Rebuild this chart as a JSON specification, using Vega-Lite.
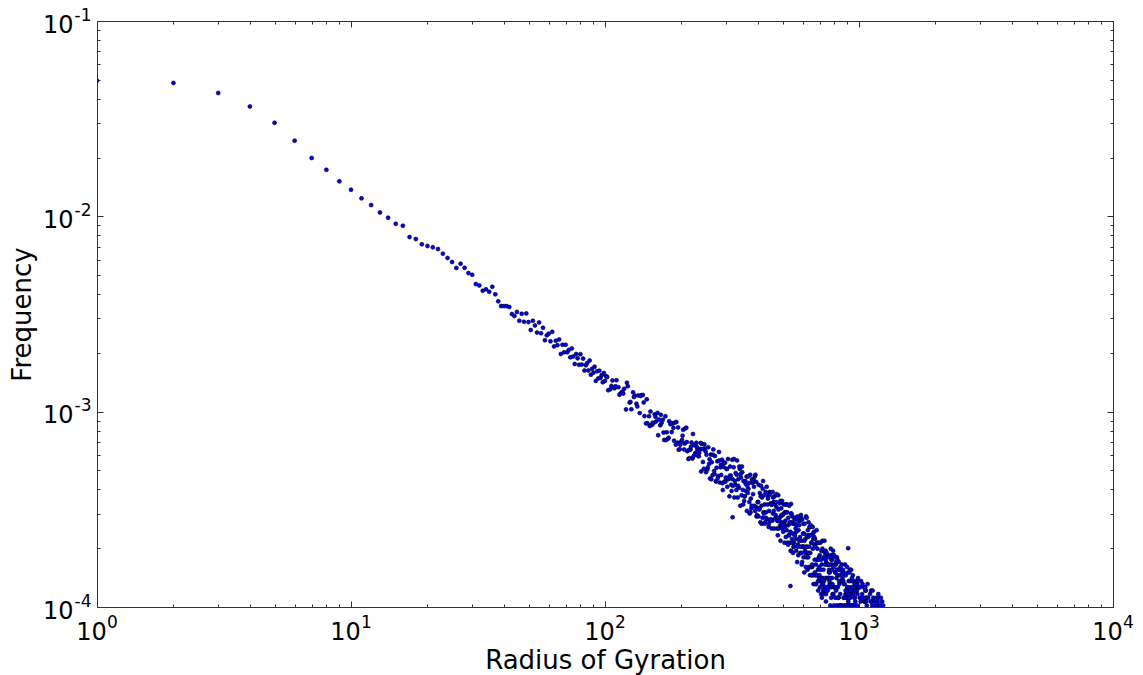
{
"$schema":"https://vega.github.io/schema/vega-lite/v6.json",
"width":1016,"height":586,
"autosize":{"type":"none"},
"padding":{"left":97,"top":21,"right":30,"bottom":68},
"background":"white",
"config":{"view":{"stroke":"#333","strokeWidth":1},"font":"DejaVu Sans"},
"data":{"values":[
{"r":1,"f":0.0495},{"r":2,"f":0.0482},{"r":3,"f":0.0428},{"r":4,"f":0.0365},{"r":5,"f":0.0301},{"r":6,"f":0.0244},{"r":7,"f":0.0199},{"r":8,"f":0.0173},{"r":9,"f":0.0151},{"r":10,"f":0.01368},
{"r":11,"f":0.01236},{"r":12,"f":0.01142},{"r":13,"f":0.01047},{"r":14,"f":0.00984},{"r":15,"f":0.00916},{"r":16,"f":0.00895},{"r":17,"f":0.00783},{"r":18,"f":0.00765},{"r":19,"f":0.00719},{"r":20,"f":0.00705},
{"r":21,"f":0.00694},{"r":22,"f":0.0068},{"r":23,"f":0.00644},{"r":24,"f":0.00612},{"r":25,"f":0.00584},{"r":26,"f":0.00544},{"r":27,"f":0.00572},{"r":28,"f":0.00545},{"r":29,"f":0.00512},{"r":30,"f":0.00502},
{"r":31,"f":0.0045},{"r":32,"f":0.00443},{"r":33,"f":0.00416},{"r":34,"f":0.00423},{"r":35,"f":0.00411},{"r":36,"f":0.00436},{"r":37,"f":0.00399},{"r":38,"f":0.00367},{"r":39,"f":0.00347},{"r":40,"f":0.00347},
{"r":41,"f":0.00347},{"r":42,"f":0.00343},{"r":43,"f":0.00316},{"r":44,"f":0.00309},{"r":45,"f":0.00324},{"r":46,"f":0.00292},
{"r":47,"f":0.003171},{"r":48,"f":0.002885},{"r":49,"f":0.003184},{"r":50,"f":0.002874},{"r":51,"f":0.002616},{"r":52,"f":0.002919},{"r":53,"f":0.002761},{"r":54,"f":0.00254},{"r":55,"f":0.002863},{"r":56,"f":0.002519},
{"r":57,"f":0.002689},{"r":58,"f":0.002323},{"r":59,"f":0.002458},{"r":60,"f":0.002509},{"r":61,"f":0.002291},{"r":62,"f":0.002563},{"r":63,"f":0.002159},{"r":64,"f":0.002309},{"r":65,"f":0.002191},{"r":66,"f":0.002344},
{"r":67,"f":0.001974},{"r":68,"f":0.002202},{"r":69,"f":0.002015},{"r":70,"f":0.002199},{"r":71,"f":0.002013},{"r":72,"f":0.00207},{"r":73,"f":0.001897},{"r":74,"f":0.002108},{"r":75,"f":0.001916},{"r":76,"f":0.001755},
{"r":77,"f":0.001972},{"r":78,"f":0.001876},{"r":79,"f":0.001736},{"r":80,"f":0.001969},{"r":81,"f":0.001742},{"r":82,"f":0.001869},{"r":83,"f":0.001623},{"r":84,"f":0.001726},{"r":85,"f":0.001771},{"r":86,"f":0.001625},
{"r":87,"f":0.001827},{"r":88,"f":0.001546},{"r":89,"f":0.00166},{"r":90,"f":0.001582},{"r":91,"f":0.0017},{"r":92,"f":0.001437},{"r":93,"f":0.00161},{"r":94,"f":0.00148},{"r":95,"f":0.001621},{"r":96,"f":0.001489},
{"r":97,"f":0.001537},{"r":98,"f":0.001413},{"r":99,"f":0.001576},{"r":100,"f":0.001437},
{"r":101,"f":0.001518},{"r":103,"f":0.001287},{"r":105,"f":0.001304},{"r":107,"f":0.001444},{"r":109,"f":0.001318},{"r":111,"f":0.001449},{"r":113,"f":0.001335},{"r":115,"f":0.001239},{"r":117,"f":0.001268},{"r":119,"f":0.001309},
{"r":121,"f":0.001027},{"r":123,"f":0.001351},{"r":125,"f":0.001113},{"r":127,"f":0.001028},{"r":129,"f":0.001256},{"r":131,"f":0.001208},{"r":133,"f":0.001098},{"r":135,"f":0.00121},{"r":137,"f":0.0009836},{"r":139,"f":0.001214},
{"r":141,"f":0.001217},{"r":143,"f":0.0009495},{"r":145,"f":0.000871},{"r":147,"f":0.000873},{"r":149,"f":0.0009485},
{"r":151,"f":0.001001},{"r":153,"f":0.0008546},{"r":155,"f":0.0008714},{"r":157,"f":0.0009704},{"r":159,"f":0.0008912},{"r":161,"f":0.0009856},{"r":163,"f":0.0009126},{"r":165,"f":0.0008518},{"r":167,"f":0.0008761},{"r":169,"f":0.0009092},
{"r":171,"f":0.0007166},{"r":173,"f":0.0009473},{"r":175,"f":0.0007842},{"r":177,"f":0.0007274},{"r":179,"f":0.000893},{"r":181,"f":0.0008624},{"r":183,"f":0.0007869},{"r":185,"f":0.000871},{"r":187,"f":0.0007108},{"r":189,"f":0.0008808},
{"r":191,"f":0.0008858},{"r":193,"f":0.0006939},{"r":195,"f":0.0006388},{"r":197,"f":0.0006425},{"r":199,"f":0.0007004},
{"r":201,"f":0.0007164},{"r":203,"f":0.0008073},{"r":205,"f":0.0006406},{"r":207,"f":0.0008209},{"r":209,"f":0.0008282},{"r":211,"f":0.0006279},{"r":213,"f":0.0005726},{"r":215,"f":0.000578},{"r":217,"f":0.0006397},{"r":219,"f":0.000695},
{"r":221,"f":0.000575},{"r":223,"f":0.0005916},{"r":225,"f":0.0006734},{"r":227,"f":0.0006143},{"r":229,"f":0.0006926},{"r":231,"f":0.0006381},{"r":233,"f":0.000593},{"r":235,"f":0.0006158},{"r":237,"f":0.0006447},{"r":239,"f":0.0004943},
{"r":241,"f":0.0006829},{"r":243,"f":0.0005528},{"r":245,"f":0.0005095},{"r":247,"f":0.0006479},{"r":249,"f":0.0006251},
{"r":251,"f":0.0006019},{"r":253,"f":0.0005063},{"r":255,"f":0.0006571},{"r":257,"f":0.0005409},{"r":259,"f":0.0004551},{"r":261,"f":0.0006034},{"r":263,"f":0.0005512},{"r":265,"f":0.0004731},{"r":267,"f":0.0006408},{"r":269,"f":0.0004962},
{"r":271,"f":0.0005932},{"r":273,"f":0.0004405},{"r":275,"f":0.0005164},{"r":277,"f":0.0005567},{"r":279,"f":0.0004688},{"r":281,"f":0.0006215},{"r":283,"f":0.0004341},{"r":285,"f":0.0005191},{"r":287,"f":0.0004745},{"r":289,"f":0.0005679},
{"r":291,"f":0.0003967},{"r":293,"f":0.0005209},{"r":295,"f":0.0004385},{"r":297,"f":0.0005469},{"r":299,"f":0.0004602},
{"r":102,"f":0.001503},{"r":106,"f":0.001355},{"r":110,"f":0.001349},{"r":114,"f":0.001221},{"r":118,"f":0.001237},{"r":122,"f":0.001406},{"r":126,"f":0.001122},{"r":130,"f":0.001188},{"r":134,"f":0.001063},{"r":138,"f":0.001204},
{"r":142,"f":0.001115},{"r":146,"f":0.001156},{"r":150,"f":0.0008438},{"r":154,"f":0.0008771},{"r":158,"f":0.0009415},{"r":162,"f":0.0007565},{"r":166,"f":0.0009629},{"r":170,"f":0.0007819},{"r":174,"f":0.0007159},{"r":178,"f":0.0007346},
{"r":182,"f":0.0008719},{"r":186,"f":0.0008261},{"r":190,"f":0.0006776},{"r":194,"f":0.0008306},{"r":198,"f":0.0006764},
{"r":202,"f":0.0007535},{"r":206,"f":0.0006864},{"r":210,"f":0.0006987},{"r":214,"f":0.0006366},{"r":218,"f":0.0006606},{"r":222,"f":0.0007688},{"r":226,"f":0.0006057},{"r":230,"f":0.0006588},{"r":234,"f":0.0005904},{"r":238,"f":0.0006915},
{"r":242,"f":0.0006431},{"r":246,"f":0.0006811},{"r":250,"f":0.0004902},{"r":254,"f":0.0005194},{"r":258,"f":0.0005713},{"r":262,"f":0.0004509},{"r":266,"f":0.0006016},{"r":270,"f":0.0004796},{"r":274,"f":0.0004389},{"r":278,"f":0.0004572},
{"r":282,"f":0.0005624},{"r":286,"f":0.0005342},{"r":290,"f":0.0004304},{"r":294,"f":0.0005497},{"r":298,"f":0.0004384},
{"r":301,"f":0.0005093},{"r":303,"f":0.0004123},{"r":305,"f":0.0005723},{"r":307,"f":0.0004511},{"r":309,"f":0.0003686},{"r":311,"f":0.0005238},{"r":313,"f":0.0004705},{"r":315,"f":0.0003929},{"r":317,"f":0.0005675},{"r":319,"f":0.0004171},
{"r":321,"f":0.000519},{"r":323,"f":0.0003638},{"r":325,"f":0.0004414},{"r":327,"f":0.000485},{"r":329,"f":0.0003977},{"r":331,"f":0.0005626},{"r":333,"f":0.0003638},{"r":335,"f":0.0004511},{"r":337,"f":0.0004074},{"r":339,"f":0.0005093},
{"r":341,"f":0.0003298},{"r":343,"f":0.0004608},{"r":345,"f":0.0003735},{"r":347,"f":0.0004899},{"r":349,"f":0.0003977},
{"r":351,"f":0.0004414},{"r":353,"f":0.0003492},{"r":355,"f":0.0003686},{"r":357,"f":0.0004414},{"r":359,"f":0.0003929},{"r":361,"f":0.0004656},{"r":363,"f":0.0004171},{"r":365,"f":0.0003832},{"r":367,"f":0.0004026},{"r":369,"f":0.0004317},
{"r":371,"f":0.0003007},{"r":373,"f":0.0004753},{"r":375,"f":0.0003589},{"r":377,"f":0.0003201},{"r":379,"f":0.0004511},{"r":381,"f":0.0004317},{"r":383,"f":0.0003783},{"r":385,"f":0.0004462},{"r":387,"f":0.0003298},{"r":389,"f":0.0004656},
{"r":391,"f":0.0004753},{"r":393,"f":0.000325},{"r":395,"f":0.000291},{"r":397,"f":0.0002959},{"r":399,"f":0.0003444},
{"r":401,"f":0.0003444},{"r":403,"f":0.000422},{"r":405,"f":0.0003153},{"r":407,"f":0.0003832},{"r":409,"f":0.0002716},{"r":411,"f":0.0004171},{"r":413,"f":0.0003298},{"r":415,"f":0.0003638},{"r":417,"f":0.0002862},{"r":419,"f":0.0004414},
{"r":421,"f":0.0003056},{"r":423,"f":0.0003735},{"r":425,"f":0.0003347},{"r":427,"f":0.0002716},{"r":429,"f":0.000388},{"r":431,"f":0.0003056},{"r":433,"f":0.0004123},{"r":435,"f":0.0002813},{"r":437,"f":0.0003347},{"r":439,"f":0.0003686},
{"r":441,"f":0.0002571},{"r":443,"f":0.0003104},{"r":445,"f":0.000388},{"r":447,"f":0.0002765},{"r":449,"f":0.0003395},
{"r":451,"f":0.0003347},{"r":453,"f":0.0002522},{"r":455,"f":0.0002765},{"r":457,"f":0.000388},{"r":459,"f":0.0003638},{"r":461,"f":0.0003444},{"r":463,"f":0.0002522},{"r":465,"f":0.0003686},{"r":467,"f":0.0003347},{"r":469,"f":0.0002862},
{"r":471,"f":0.0003444},{"r":473,"f":0.000325},{"r":475,"f":0.0002522},{"r":477,"f":0.0002765},{"r":479,"f":0.0002328},{"r":481,"f":0.0003735},{"r":483,"f":0.0002522},{"r":485,"f":0.0002862},{"r":487,"f":0.0003395},{"r":489,"f":0.0002619},
{"r":491,"f":0.0002183},{"r":493,"f":0.000291},{"r":495,"f":0.0002959},{"r":497,"f":0.0002716},{"r":499,"f":0.0002522},
{"r":501,"f":0.0002959},{"r":503,"f":0.0002425},{"r":505,"f":0.0003347},{"r":507,"f":0.0002668},{"r":509,"f":0.0002134},{"r":511,"f":0.0003056},{"r":513,"f":0.0002765},{"r":515,"f":0.000228},{"r":517,"f":0.0003347},{"r":519,"f":0.0002474},
{"r":521,"f":0.0003056},{"r":523,"f":0.0002134},{"r":525,"f":0.0002619},{"r":527,"f":0.0002862},{"r":529,"f":0.0002328},{"r":531,"f":0.0003298},{"r":533,"f":0.0002134},{"r":535,"f":0.0002668},{"r":537,"f":0.0002425},{"r":539,"f":0.0003007},
{"r":541,"f":0.000194},{"r":543,"f":0.0002716},{"r":545,"f":0.0002231},{"r":547,"f":0.000291},{"r":549,"f":0.0002377},
{"r":551,"f":0.0002668},{"r":553,"f":0.0002037},{"r":555,"f":0.0002134},{"r":557,"f":0.0002668},{"r":559,"f":0.0002328},{"r":561,"f":0.0002862},{"r":563,"f":0.0002522},{"r":565,"f":0.0002231},{"r":567,"f":0.0002425},{"r":569,"f":0.0002619},
{"r":571,"f":0.0001698},{"r":573,"f":0.000291},{"r":575,"f":0.0002086},{"r":577,"f":0.0001843},{"r":579,"f":0.0002765},{"r":581,"f":0.0002619},{"r":583,"f":0.0002231},{"r":585,"f":0.0002765},{"r":587,"f":0.0001892},{"r":589,"f":0.0002862},
{"r":591,"f":0.0002959},{"r":593,"f":0.0001892},{"r":595,"f":0.0001649},{"r":597,"f":0.0001698},{"r":599,"f":0.0002037},
{"r":601,"f":0.0002037},{"r":603,"f":0.0002668},{"r":605,"f":0.0001795},{"r":607,"f":0.0002377},{"r":609,"f":0.0001504},{"r":611,"f":0.0002668},{"r":613,"f":0.000194},{"r":615,"f":0.0002231},{"r":617,"f":0.0001601},{"r":619,"f":0.000291},
{"r":621,"f":0.0001795},{"r":623,"f":0.0002328},{"r":625,"f":0.0002037},{"r":627,"f":0.0001552},{"r":629,"f":0.0002474},{"r":631,"f":0.0001795},{"r":633,"f":0.0002716},{"r":635,"f":0.0001601},{"r":637,"f":0.0002037},{"r":639,"f":0.0002328},
{"r":641,"f":0.0001455},{"r":643,"f":0.0001892},{"r":645,"f":0.0002571},{"r":647,"f":0.0001601},{"r":649,"f":0.0002134},
{"r":651,"f":0.0002134},{"r":653,"f":0.0001455},{"r":655,"f":0.0001601},{"r":657,"f":0.0002571},{"r":659,"f":0.0002377},{"r":661,"f":0.0002231},{"r":663,"f":0.0001455},{"r":665,"f":0.0002425},{"r":667,"f":0.0002086},{"r":669,"f":0.0001746},
{"r":671,"f":0.0002231},{"r":673,"f":0.0002037},{"r":675,"f":0.0001455},{"r":677,"f":0.0001649},{"r":679,"f":0.000131},{"r":681,"f":0.0002474},{"r":683,"f":0.0001455},{"r":685,"f":0.0001746},{"r":687,"f":0.0002134},{"r":689,"f":0.0001552},
{"r":691,"f":0.0001213},{"r":693,"f":0.0001746},{"r":695,"f":0.0001795},{"r":697,"f":0.0001601},{"r":699,"f":0.0001455},
{"r":701,"f":0.0001843},{"r":703,"f":0.0001358},{"r":705,"f":0.0002134},{"r":707,"f":0.0001552},{"r":709,"f":0.0001164},{"r":711,"f":0.000194},{"r":713,"f":0.0001649},{"r":715,"f":0.000131},{"r":717,"f":0.0002183},{"r":719,"f":0.0001407},
{"r":721,"f":0.000194},{"r":723,"f":0.0001213},{"r":725,"f":0.0001552},{"r":727,"f":0.0001795},{"r":729,"f":0.0001358},{"r":731,"f":0.0002183},{"r":733,"f":0.0001213},{"r":735,"f":0.0001649},{"r":737,"f":0.0001407},{"r":739,"f":0.000194},
{"r":741,"f":0.0001067},{"r":743,"f":0.0001698},{"r":745,"f":0.0001261},{"r":747,"f":0.0001843},{"r":749,"f":0.0001407},
{"r":751,"f":0.0001649},{"r":753,"f":0.0001213},{"r":755,"f":0.0001261},{"r":757,"f":0.0001649},{"r":759,"f":0.0001407},{"r":761,"f":0.0001795},{"r":763,"f":0.0001552},{"r":765,"f":0.0001358},{"r":767,"f":0.0001504},{"r":769,"f":0.0001649},
{"r":771,"f":0.0001019},{"r":773,"f":0.0001843},{"r":775,"f":0.0001261},{"r":777,"f":0.0001116},{"r":779,"f":0.0001746},{"r":781,"f":0.0001649},{"r":783,"f":0.0001407},{"r":785,"f":0.0001746},{"r":787,"f":0.0001164},{"r":789,"f":0.0001843},
{"r":791,"f":0.000194},{"r":793,"f":0.0001164},{"r":797,"f":0.0001019},{"r":799,"f":0.0001261},
{"r":801,"f":0.0001261},{"r":803,"f":0.0001649},{"r":805,"f":0.0001116},{"r":807,"f":0.0001504},{"r":811,"f":0.0001649},{"r":813,"f":0.0001213},{"r":815,"f":0.0001407},{"r":817,"f":0.0001019},{"r":819,"f":0.0001795},{"r":821,"f":0.0001116},
{"r":823,"f":0.0001455},{"r":825,"f":0.0001261},{"r":829,"f":0.0001552},{"r":831,"f":0.0001116},{"r":833,"f":0.0001698},{"r":835,"f":0.0001019},{"r":837,"f":0.000131},{"r":839,"f":0.0001455},{"r":843,"f":0.0001164},{"r":845,"f":0.0001601},
{"r":847,"f":0.0001019},{"r":849,"f":0.0001358},
{"r":851,"f":0.0001358},{"r":855,"f":0.0001019},{"r":857,"f":0.0001649},{"r":859,"f":0.0001504},{"r":861,"f":0.0001407},{"r":865,"f":0.0001552},{"r":867,"f":0.0001358},{"r":869,"f":0.0001116},{"r":871,"f":0.0001455},{"r":873,"f":0.000131},
{"r":877,"f":0.0001116},{"r":881,"f":0.0001649},{"r":885,"f":0.0001164},{"r":887,"f":0.0001455},{"r":889,"f":0.0001019},{"r":893,"f":0.0001213},{"r":895,"f":0.0001213},{"r":897,"f":0.0001116},{"r":899,"f":0.0001019},
{"r":901,"f":0.0001261},{"r":905,"f":0.0001504},{"r":907,"f":0.0001067},{"r":911,"f":0.0001358},{"r":913,"f":0.0001164},{"r":917,"f":0.0001504},{"r":919,"f":0.0001019},{"r":921,"f":0.0001358},{"r":925,"f":0.0001116},{"r":927,"f":0.0001261},
{"r":931,"f":0.0001552},{"r":935,"f":0.0001164},{"r":937,"f":0.0001019},{"r":939,"f":0.0001358},{"r":943,"f":0.0001213},{"r":947,"f":0.0001358},{"r":949,"f":0.0001019},
{"r":951,"f":0.0001164},{"r":957,"f":0.0001213},{"r":959,"f":0.0001019},{"r":961,"f":0.000131},{"r":963,"f":0.0001116},{"r":967,"f":0.0001067},{"r":969,"f":0.0001213},{"r":973,"f":0.0001358},{"r":979,"f":0.0001261},{"r":981,"f":0.0001213},
{"r":983,"f":0.0001019},{"r":985,"f":0.000131},{"r":989,"f":0.0001358},{"r":991,"f":0.0001407},
{"r":302,"f":0.0005093},{"r":306,"f":0.0004559},{"r":310,"f":0.0004705},{"r":314,"f":0.000422},{"r":318,"f":0.0004511},{"r":322,"f":0.0005723},{"r":326,"f":0.000422},{"r":330,"f":0.0004753},{"r":334,"f":0.0004171},{"r":338,"f":0.0005238},
{"r":342,"f":0.0004802},{"r":346,"f":0.0005238},{"r":350,"f":0.0003347},{"r":354,"f":0.0003686},{"r":358,"f":0.0004268},{"r":362,"f":0.0003104},{"r":366,"f":0.0004656},{"r":370,"f":0.0003444},{"r":374,"f":0.0003056},{"r":378,"f":0.0003298},
{"r":382,"f":0.0004414},{"r":386,"f":0.0004123},{"r":390,"f":0.0003104},{"r":394,"f":0.0004365},{"r":398,"f":0.0003201},
{"r":402,"f":0.000291},{"r":406,"f":0.0003201},{"r":410,"f":0.0003686},{"r":414,"f":0.0002668},{"r":418,"f":0.0004026},{"r":422,"f":0.0003007},{"r":426,"f":0.0002668},{"r":430,"f":0.0002862},{"r":434,"f":0.0003832},{"r":438,"f":0.0003589},
{"r":442,"f":0.0002668},{"r":446,"f":0.0003783},{"r":450,"f":0.0002813},{"r":454,"f":0.0003347},{"r":458,"f":0.0003007},{"r":462,"f":0.0003104},{"r":466,"f":0.0002813},{"r":470,"f":0.0002959},{"r":474,"f":0.0003783},{"r":478,"f":0.0002765},
{"r":482,"f":0.0003153},{"r":486,"f":0.0002765},{"r":490,"f":0.0003492},{"r":494,"f":0.0003201},{"r":498,"f":0.0003492},
{"r":502,"f":0.0002619},{"r":506,"f":0.0003007},{"r":510,"f":0.0002571},{"r":514,"f":0.0003347},{"r":518,"f":0.0003056},{"r":522,"f":0.0003347},{"r":526,"f":0.0002086},{"r":530,"f":0.0002328},{"r":534,"f":0.0002716},{"r":538,"f":0.000194},
{"r":542,"f":0.0003007},{"r":546,"f":0.0002134},{"r":550,"f":0.0001892},{"r":554,"f":0.0002037},{"r":558,"f":0.0002813},{"r":562,"f":0.0002668},{"r":566,"f":0.000194},{"r":570,"f":0.0002813},{"r":574,"f":0.0002037},{"r":578,"f":0.0002474},
{"r":582,"f":0.0002183},{"r":586,"f":0.000228},{"r":590,"f":0.0002037},{"r":594,"f":0.0002183},{"r":598,"f":0.0002813},
{"r":602,"f":0.0002377},{"r":606,"f":0.0002037},{"r":610,"f":0.0002183},{"r":614,"f":0.0001892},{"r":618,"f":0.0002037},{"r":622,"f":0.0002862},{"r":626,"f":0.0001892},{"r":630,"f":0.000228},{"r":634,"f":0.0001892},{"r":638,"f":0.0002571},
{"r":642,"f":0.0002328},{"r":646,"f":0.0002619},{"r":650,"f":0.0001455},{"r":654,"f":0.0001649},{"r":658,"f":0.0001989},{"r":662,"f":0.000131},{"r":666,"f":0.000228},{"r":670,"f":0.0001504},{"r":674,"f":0.000131},{"r":678,"f":0.0001455},
{"r":682,"f":0.0002134},{"r":686,"f":0.0001989},{"r":690,"f":0.0001358},{"r":694,"f":0.0002134},{"r":698,"f":0.0001407},
{"r":702,"f":0.0001261},{"r":706,"f":0.0001407},{"r":710,"f":0.0001746},{"r":714,"f":0.0001116},{"r":718,"f":0.0001989},{"r":722,"f":0.000131},{"r":726,"f":0.0001164},{"r":730,"f":0.0001261},{"r":734,"f":0.0001892},{"r":738,"f":0.0001746},
{"r":742,"f":0.0001164},{"r":746,"f":0.0001892},{"r":750,"f":0.0001261},{"r":754,"f":0.0001649},{"r":758,"f":0.0001407},{"r":762,"f":0.0001504},{"r":766,"f":0.000131},{"r":770,"f":0.0001407},{"r":774,"f":0.0001989},{"r":778,"f":0.000131},
{"r":782,"f":0.0001552},{"r":786,"f":0.000131},{"r":790,"f":0.0001795},{"r":794,"f":0.0001601},{"r":798,"f":0.0001843},
{"r":802,"f":0.0001261},{"r":806,"f":0.0001504},{"r":810,"f":0.0001261},{"r":814,"f":0.0001698},{"r":818,"f":0.0001552},{"r":822,"f":0.0001746},{"r":830,"f":0.0001116},{"r":834,"f":0.0001358},{"r":842,"f":0.0001552},{"r":846,"f":0.0001019},
{"r":858,"f":0.0001455},{"r":862,"f":0.0001358},{"r":870,"f":0.0001504},{"r":874,"f":0.0001019},{"r":878,"f":0.000131},{"r":882,"f":0.0001116},{"r":886,"f":0.0001213},{"r":890,"f":0.0001019},{"r":894,"f":0.0001164},{"r":898,"f":0.0001601},
{"r":902,"f":0.0001261},{"r":906,"f":0.0001116},{"r":910,"f":0.0001164},{"r":914,"f":0.0001019},{"r":918,"f":0.0001116},{"r":922,"f":0.0001552},{"r":926,"f":0.0001019},{"r":930,"f":0.0001213},{"r":934,"f":0.0001019},{"r":938,"f":0.0001407},
{"r":942,"f":0.0001261},{"r":946,"f":0.0001455},{"r":958,"f":0.0001116},{"r":966,"f":0.000131},{"r":982,"f":0.0001261},{"r":986,"f":0.0001164},{"r":994,"f":0.0001261},
{"r":1003,"f":0.0001261},{"r":1007,"f":0.0001116},{"r":1011,"f":0.0001261},{"r":1015,"f":0.0001067},{"r":1019,"f":0.0001358},{"r":1023,"f":0.0001116},{"r":1029,"f":0.0001164},{"r":1033,"f":0.000131},{"r":1039,"f":0.0001116},{"r":1045,"f":0.0001261},
{"r":1049,"f":0.0001067},{"r":1051,"f":0.0001067},{"r":1057,"f":0.0001261},{"r":1059,"f":0.0001213},{"r":1061,"f":0.0001116},{"r":1065,"f":0.0001213},{"r":1067,"f":0.0001067},{"r":1071,"f":0.0001116},{"r":1073,"f":0.0001019},{"r":1081,"f":0.000131},
{"r":1087,"f":0.0001116},{"r":1105,"f":0.0001164},{"r":1111,"f":0.0001067},{"r":1117,"f":0.0001213},{"r":1121,"f":0.0001067},{"r":1127,"f":0.0001019},{"r":1131,"f":0.0001213},{"r":1139,"f":0.0001116},{"r":1147,"f":0.0001067},{"r":1161,"f":0.0001019},
{"r":1173,"f":0.0001116},{"r":1179,"f":0.0001019},{"r":1185,"f":0.0001067},{"r":1189,"f":0.0001116},{"r":1191,"f":0.0001164},{"r":1203,"f":0.0001019},{"r":1211,"f":0.0001019},{"r":1219,"f":0.0001116},{"r":1233,"f":0.0001067},{"r":1245,"f":0.0001019},
{"r":540,"f":0.000337},{"r":906,"f":0.0002},{"r":537,"f":0.000128},{"r":318,"f":0.000288}
]},
"layer":[
{"mark":{"type":"point","filled":true,"shape":"circle","size":16,"fill":"#0000ff","stroke":"#000000","strokeWidth":0.6,"opacity":1,"clip":true},
"encoding":{
"x":{"field":"r","type":"quantitative","title":"Radius of Gyration","scale":{"type":"log","domain":[1,10000],"nice":false},
"axis":{"orient":"bottom","values":[1,2,3,4,5,6,7,8,9,10,20,30,40,50,60,70,80,90,100,200,300,400,500,600,700,800,900,1000,2000,3000,4000,5000,6000,7000,8000,9000,10000],
"labelExpr":"indexof([1,10,100,1000,10000],datum.value)>=0?'10':''",
"tickSize":{"condition":{"test":"indexof([1,10,100,1000,10000],datum.value)>=0","value":-6},"value":-3},
"tickColor":"#333","tickWidth":1,"domain":false,"grid":false,"labelFont":"DejaVu Sans","labelFontSize":24,"labelColor":"#000","labelPadding":19,"labelOffset":-6,"labelFlush":false,"labelOverlap":false,"labelBound":false,
"titleFont":"DejaVu Sans","titleFontSize":26,"titleFontWeight":"normal","titleColor":"#000","titlePadding":0}},
"y":{"field":"f","type":"quantitative","title":"Frequency","scale":{"type":"log","domain":[0.0001,0.1],"nice":false},
"axis":{"orient":"left","values":[0.0001,0.0002,0.0003,0.0004,0.0005,0.0006,0.0007,0.0008,0.0009,0.001,0.002,0.003,0.004,0.005,0.006,0.007,0.008,0.009,0.01,0.02,0.03,0.04,0.05,0.06,0.07,0.08,0.09,0.1],
"labelExpr":"indexof([0.0001,0.001,0.01,0.1],datum.value)>=0?'10':''",
"tickSize":{"condition":{"test":"indexof([0.0001,0.001,0.01,0.1],datum.value)>=0","value":-6},"value":-3},
"tickColor":"#333","tickWidth":1,"domain":false,"grid":false,"labelFont":"DejaVu Sans","labelFontSize":24,"labelColor":"#000","labelPadding":30,"labelOffset":4,"labelFlush":false,"labelOverlap":false,"labelBound":false,
"titleFont":"DejaVu Sans","titleFontSize":26,"titleFontWeight":"normal","titleColor":"#000","titlePadding":7}}
}},
{"mark":{"type":"point","opacity":0},
"encoding":{
"x":{"field":"r","type":"quantitative","title":null,"scale":{"type":"log","domain":[1,10000],"nice":false},
"axis":{"orient":"top","values":[1,2,3,4,5,6,7,8,9,10,20,30,40,50,60,70,80,90,100,200,300,400,500,600,700,800,900,1000,2000,3000,4000,5000,6000,7000,8000,9000,10000],
"labels":false,"tickSize":{"condition":{"test":"indexof([1,10,100,1000,10000],datum.value)>=0","value":-6},"value":-3},"tickColor":"#333","domain":false,"grid":false}},
"y":{"field":"f","type":"quantitative","title":null,"scale":{"type":"log","domain":[0.0001,0.1],"nice":false},
"axis":{"orient":"right","values":[0.0001,0.0002,0.0003,0.0004,0.0005,0.0006,0.0007,0.0008,0.0009,0.001,0.002,0.003,0.004,0.005,0.006,0.007,0.008,0.009,0.01,0.02,0.03,0.04,0.05,0.06,0.07,0.08,0.09,0.1],
"labels":false,"tickSize":{"condition":{"test":"indexof([0.0001,0.001,0.01,0.1],datum.value)>=0","value":-6},"value":-3},"tickColor":"#333","domain":false,"grid":false}}
}},
{"mark":{"type":"point","opacity":0},
"encoding":{
"x":{"field":"r","type":"quantitative","title":null,"scale":{"type":"log","domain":[1,10000],"nice":false},
"axis":{"orient":"bottom","values":[1,10,100,1000,10000],"labelExpr":"datum.value==1?'0':datum.value==10?'1':datum.value==100?'2':datum.value==1000?'3':'4'",
"ticks":false,"domain":false,"grid":false,"labelFont":"DejaVu Sans","labelFontSize":17,"labelColor":"#000","labelPadding":7,"labelOffset":15,"labelFlush":false,"labelOverlap":false,"labelBound":false}},
"y":{"field":"f","type":"quantitative","title":null,"scale":{"type":"log","domain":[0.0001,0.1],"nice":false},
"axis":{"orient":"left","values":[0.0001,0.001,0.01,0.1],"labelExpr":"datum.value==0.0001?'-4':datum.value==0.001?'-3':datum.value==0.01?'-2':'-1'",
"ticks":false,"domain":false,"grid":false,"labelFont":"DejaVu Sans","labelFontSize":17,"labelColor":"#000","labelPadding":6,"labelOffset":-6,"labelFlush":false,"labelOverlap":false,"labelBound":false}}
}}
],
"resolve":{"axis":{"x":"independent","y":"independent"}}
}
